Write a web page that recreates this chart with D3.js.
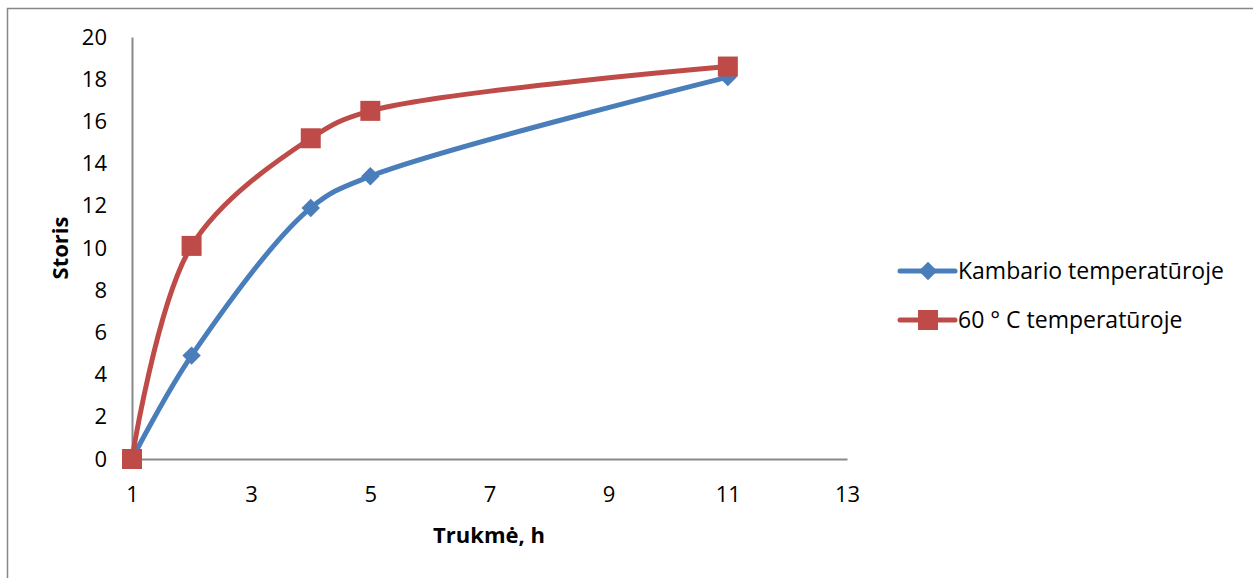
<!DOCTYPE html>
<html>
<head>
<meta charset="utf-8">
<script src="https://cdn.jsdelivr.net/npm/d3@7"></script>
<style>
  body { margin: 0; background: #fff; }
  text { font-family: "Open Sans", "Liberation Sans", sans-serif; fill: #000; }
</style>
</head>
<body>
<div id="chart-area"></div>
<script>
// data
var hours = [1, 2, 4, 5, 11];
var roomTemp = [0, 4.9, 11.9, 13.4, 18.1];
var hotTemp = [0, 10.1, 15.2, 16.5, 18.6];
var seriesNames = ["Kambario temperatūroje", "60 ° C temperatūroje"];
var xTicks = [1, 3, 5, 7, 9, 11, 13];
var yTicks = [0, 2, 4, 6, 8, 10, 12, 14, 16, 18, 20];

var W = 1253, H = 578;
var margin = { left: 132, top: 37 };
var width = 715, height = 422;

var svg = d3.select("#chart-area").append("svg")
    .attr("width", W)
    .attr("height", H);

// outer frame
svg.append("rect")
    .attr("x", 7.5).attr("y", 8.5)
    .attr("width", W).attr("height", H)
    .attr("fill", "none")
    .attr("stroke", "#878787")
    .attr("stroke-width", 1.5);

var g = svg.append("g")
    .attr("transform", "translate(" + margin.left + ", " + margin.top + ")");

var x = d3.scaleLinear().domain([1, 13]).range([0, width]);
var y = d3.scaleLinear().domain([0, 20]).range([height, 0]);

// x Axis
var xAxis = g.append("g")
    .attr("transform", "translate(0, " + height + ")")
    .call(d3.axisBottom(x).tickValues(xTicks).tickSize(0).tickPadding(27));
xAxis.select(".domain").attr("stroke", "#898989").attr("stroke-width", 2);
xAxis.selectAll("text").style("font-size", "22px");

// y Axis
var yAxis = g.append("g")
    .call(d3.axisLeft(y).tickValues(yTicks).tickSize(0).tickPadding(25));
yAxis.select(".domain").attr("stroke", "#898989").attr("stroke-width", 2);
yAxis.selectAll("text").style("font-size", "22px");

// labels
svg.append("text")
    .attr("x", 489).attr("y", 543)
    .attr("text-anchor", "middle")
    .style("font-size", "22px").style("font-weight", "bold")
    .text("Trukmė, h");

svg.append("text")
    .attr("transform", "translate(68, 248) rotate(-90)")
    .attr("text-anchor", "middle")
    .style("font-size", "22px").style("font-weight", "bold")
    .text("Storis");

var line = d3.line()
    .x((d) => x(d[0]))
    .y((d) => y(d[1]))
    .curve(d3.curveCatmullRom.alpha(0.5));

var blue = "#4a7ebb", red = "#be4b48";

var blueData = hours.map((h, i) => [h, roomTemp[i]]);
var redData = hours.map((h, i) => [h, hotTemp[i]]);

g.append("path").datum(blueData)
    .attr("d", line).attr("fill", "none")
    .attr("stroke", blue).attr("stroke-width", 5);

g.append("path").datum(redData)
    .attr("d", line).attr("fill", "none")
    .attr("stroke", red).attr("stroke-width", 5);

var diamond = d3.symbol().type(d3.symbolSquare).size(170);

g.selectAll(".diamond").data(blueData).enter()
    .append("path")
    .attr("class", "diamond")
    .attr("d", diamond)
    .attr("transform", (d) => "translate(" + x(d[0]) + "," + y(d[1]) + ") rotate(45)")
    .attr("fill", blue);

g.selectAll(".sq").data(redData).enter()
    .append("rect")
    .attr("class", "sq")
    .attr("x", (d) => x(d[0]) - 10)
    .attr("y", (d) => y(d[1]) - 10)
    .attr("width", 20).attr("height", 20)
    .attr("fill", red);

// legend
var legend = svg.append("g").attr("transform", "translate(900, 271)");
var colors = [blue, red];
seriesNames.forEach((name, i) => {
    var row = legend.append("g").attr("transform", "translate(0," + (i * 49) + ")");
    row.append("line")
        .attr("x1", 0).attr("x2", 55)
        .attr("stroke", colors[i]).attr("stroke-width", 5)
        .attr("stroke-linecap", "round");
    if (i === 0) {
        row.append("path").attr("d", diamond)
            .attr("transform", "translate(28,0) rotate(45)")
            .attr("fill", colors[i]);
    } else {
        row.append("rect")
            .attr("x", 18).attr("y", -10)
            .attr("width", 20).attr("height", 20)
            .attr("fill", colors[i]);
    }
    row.append("text")
        .attr("x", 58).attr("y", 8)
        .style("font-size", "23px")
        .text(name);
});
</script>
</body>
</html>
